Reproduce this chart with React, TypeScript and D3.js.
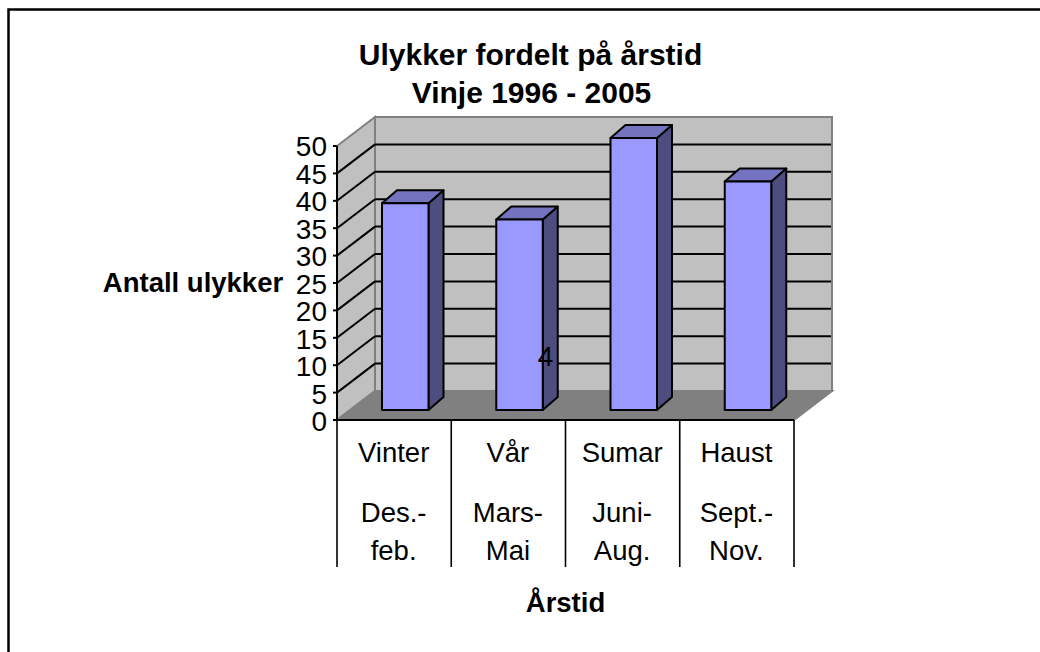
import React from "react";
import * as d3 from "d3";

const seasons = ["Vinter", "Vår", "Sumar", "Haust"];
const months = [["Des.-", "feb."], ["Mars-", "Mai"], ["Juni-", "Aug."], ["Sept.-", "Nov."]];
const accidents = [38, 35, 50, 42];
const ticks = [0, 5, 10, 15, 20, 25, 30, 35, 40, 45, 50];

const FONT = "'Liberation Sans', Arial, sans-serif";
const width = 1040;
const height = 652;

// front plane of the 3d box, the back wall is shifted by depth
const depthX = 38;
const depthY = -29;
const x = d3.scaleBand<string>().domain(seasons).range([337, 794]);
const y = d3.scaleLinear().domain([0, 50]).range([420, 146]);
// tick label baselines
const labelY = d3.scaleLinear().domain([0, 50]).range([431, 156]);
// bars stand a bit in on the floor
const barY = d3.scaleLinear().domain([0, 50]).range([410, 138]);
const barOffset = 45;
const barW = 46.5;
const barDx = 15;
const barDy = -13;

function poly(pts: [number, number][]) {
  return d3.line()(pts) + "Z";
}

export default function App() {
  const x0 = x.range()[0];
  const x1 = x.range()[1];
  const y0 = y(0);
  const y50 = y(50);

  return (
    <svg width={width} height={height} style={{ position: "absolute", left: 0, top: 0, background: "#fff" }} fontFamily={FONT}>
      {/* frame is cut off at right and bottom */}
      <path d={`M${width},9.5H8.5V${height}`} fill="none" stroke="#000" strokeWidth={2.5} />

      <text x={530.5} y={65} textAnchor="middle" fontSize={30} fontWeight="bold">Ulykker fordelt på årstid</text>
      <text x={531.5} y={103} textAnchor="middle" fontSize={30} fontWeight="bold">Vinje 1996 - 2005</text>

      {/* walls + floor */}
      <path d={poly([[x0, y50], [x0 + depthX, y50 + depthY], [x0 + depthX, y0 + depthY], [x0, y0]])} fill="#c0c0c0" stroke="#808080" strokeWidth={2} />
      <path d={poly([[x0 + depthX, y50 + depthY], [x1 + depthX, y50 + depthY], [x1 + depthX, y0 + depthY], [x0 + depthX, y0 + depthY]])} fill="#c0c0c0" stroke="#808080" strokeWidth={2} />
      <path d={poly([[x0, y0], [x0 + depthX, y0 + depthY], [x1 + depthX, y0 + depthY], [x1, y0]])} fill="#808080" stroke="#808080" strokeWidth={2} />

      {/* gridlines */}
      {ticks.filter((t) => t > 0 && t < 50).map((t) => (
        <g key={t}>
          <line x1={x0} x2={x0 + depthX} y1={y(t)} y2={y(t) + depthY} stroke="#000" strokeWidth={2} />
          <line x1={x0 + depthX} x2={x1 + depthX - 1} y1={y(t) + depthY} y2={y(t) + depthY} stroke="#000" strokeWidth={2} />
        </g>
      ))}

      {/* bars */}
      {seasons.map((s, i) => {
        const left = x(s)! + barOffset;
        const right = left + barW;
        const top = barY(accidents[i]);
        const bottom = barY(0);
        return (
          <g key={s} stroke="#000" strokeWidth={2} strokeLinejoin="round">
            <path d={poly([[right, top], [right + barDx, top + barDy], [right + barDx, bottom + barDy], [right, bottom]])} fill="#4d4d80" />
            <path d={poly([[left, top], [left + barDx, top + barDy], [right + barDx, top + barDy], [right, top]])} fill="#7373bf" />
            <rect x={left} y={top} width={barW} height={bottom - top} fill="#9999ff" />
          </g>
        );
      })}

      {/* value axis */}
      <line x1={x0} x2={x0} y1={y50} y2={y0} stroke="#000" strokeWidth={2} />
      {ticks.map((t) => (
        <g key={t}>
          <line x1={x0 - 4} x2={x0} y1={y(t)} y2={y(t)} stroke="#000" strokeWidth={2} />
          <text x={x0 - 10} y={labelY(t)} textAnchor="end" fontSize={28}>{t}</text>
        </g>
      ))}

      {/* category table */}
      <line x1={x0} x2={x1} y1={y0} y2={y0} stroke="#000" strokeWidth={2} />
      {[...seasons.map((s) => x(s)!), x1].map((px) => (
        <line key={px} x1={px} x2={px} y1={y0} y2={567} stroke="#000" strokeWidth={1.6} />
      ))}
      {seasons.map((s, i) => {
        const cx = x(s)! + x.bandwidth() / 2;
        return (
          <g key={s} textAnchor="middle" fontSize={27.5}>
            <text x={cx - 0.5} y={462}>{s}</text>
            <text x={cx - 0.5} y={522}>{months[i][0]}</text>
            <text x={cx - 0.5} y={560}>{months[i][1]}</text>
          </g>
        );
      })}

      <text x={545.5} y={366} textAnchor="middle" fontSize={28}>4</text>
      <text x={193} y={292} textAnchor="middle" fontSize={27.5} fontWeight="bold">Antall ulykker</text>
      <text x={565.5} y={612} textAnchor="middle" fontSize={27.5} fontWeight="bold">Årstid</text>
    </svg>
  );
}
